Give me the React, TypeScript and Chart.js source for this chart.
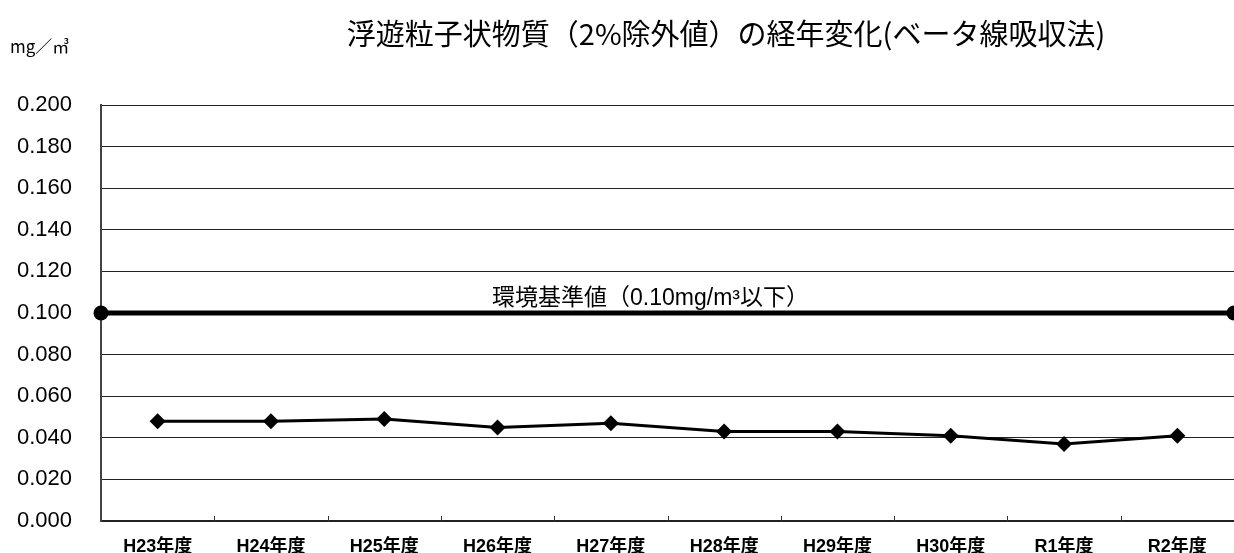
import React, { useEffect, useRef } from "react";
import { Chart, registerables } from "chart.js";

Chart.register(...registerables);

const titleText = "浮遊粒子状物質（2%除外値）の経年変化(ベータ線吸収法)";
const unitText = "mg／㎥";
const categories = ["H23年度", "H24年度", "H25年度", "H26年度", "H27年度", "H28年度", "H29年度", "H30年度", "R1年度", "R2年度"];
const values = [0.048, 0.048, 0.049, 0.045, 0.047, 0.043, 0.043, 0.041, 0.037, 0.041];
const standardValue = 0.1;
const standardLabel = "環境基準値（0.10mg/m³以下）";
const yMin = 0;
const yMax = 0.2;
const yStep = 0.02;

const W = 1234;
const H = 553;

const extrasPlugin = {
  id: "extras",
  afterDatasetsDraw(chart: any) {
    const { ctx, chartArea, scales } = chart;
    const xs = scales.x;
    const x2 = scales.x2;
    const ys = scales.y;
    ctx.save();
    ctx.strokeStyle = "#333";
    ctx.lineWidth = 1;
    for (let i = 1; i < categories.length; i++) {
      const px = Math.round((xs.getPixelForValue(i - 1) + xs.getPixelForValue(i)) / 2) + 0.5;
      ctx.beginPath();
      ctx.moveTo(px, chartArea.bottom);
      ctx.lineTo(px, chartArea.bottom - 5);
      ctx.stroke();
    }
    ctx.fillStyle = "#000";
    ctx.font = '23px "Liberation Sans", "Noto Sans CJK JP", sans-serif';
    ctx.textAlign = "center";
    ctx.textBaseline = "bottom";
    ctx.fillText(standardLabel, x2.getPixelForValue(0.485), ys.getPixelForValue(standardValue) - 3);
    ctx.restore();
  },
};

export default function App() {
  const ref = useRef<HTMLCanvasElement | null>(null);

  useEffect(() => {
    if (!ref.current) return;
    const chart = new Chart(ref.current, {
      type: "line",
      data: {
        labels: categories,
        datasets: [
          {
            label: "SPM",
            data: values,
            xAxisID: "x",
            borderColor: "#000",
            backgroundColor: "#000",
            borderWidth: 3,
            pointStyle: "rectRot",
            pointRadius: 8,
            pointBackgroundColor: "#000",
            pointBorderColor: "#000",
            pointBorderWidth: 0,
            tension: 0,
          },
          {
            label: "standard",
            data: [
              { x: 0, y: standardValue },
              { x: 1, y: standardValue },
            ],
            xAxisID: "x2",
            borderColor: "#000",
            backgroundColor: "#000",
            borderWidth: 5,
            pointStyle: "circle",
            pointRadius: 7.5,
            pointBorderWidth: 0,
            pointBackgroundColor: "#000",
            clip: false as any,
          } as any,
        ],
      },
      options: {
        responsive: false,
        animation: false,
        layout: { autoPadding: false, padding: { top: 105, left: 0, right: 0, bottom: 0 } },
        plugins: {
          legend: { display: false },
          title: { display: false },
          tooltip: { enabled: false },
        },
        scales: {
          x: {
            type: "category",
            offset: true,
            grid: { display: true, drawOnChartArea: false, drawTicks: true, tickLength: 13, tickColor: "rgba(0,0,0,0)", offset: true },
            border: { display: true, color: "#222", width: 1.5 },
            ticks: {
              color: "#000",
              padding: 2,
              maxRotation: 0,
              autoSkip: false,
              font: { family: '"Liberation Sans", "Noto Sans CJK JP", sans-serif', size: 18, weight: "bold" },
            },
            afterFit(scale: any) {
              scale.height = H - 521;
            },
          },
          x2: {
            type: "linear",
            display: false,
            min: 0,
            max: 1,
          },
          y: {
            type: "linear",
            min: yMin,
            max: yMax,
            grid: { color: "#222", lineWidth: 1, drawTicks: true, tickLength: 29, tickColor: "rgba(0,0,0,0)" },
            border: { display: true, color: "#444", width: 2 },
            ticks: {
              stepSize: yStep,
              color: "#000",
              padding: 0,
              font: { family: '"Liberation Sans", Arial, sans-serif', size: 22 },
              callback: (v: any) => Number(v).toFixed(3),
            },
            afterFit(scale: any) {
              scale.width = 101;
            },
          },
        },
      },
      plugins: [extrasPlugin],
    });
    return () => chart.destroy();
  }, []);

  return (
    <div style={{ position: "absolute", left: 0, top: 0, width: W, height: H, background: "#fff", overflow: "hidden" }}>
      <canvas ref={ref} width={W} height={H} style={{ display: "block", width: W, height: H }} />
      <div
        style={{
          position: "absolute",
          left: 726,
          top: 13,
          transform: "translateX(-50%)",
          whiteSpace: "nowrap",
          fontFamily: '"Noto Sans CJK JP", sans-serif',
          fontSize: 29,
          lineHeight: "38px",
          color: "#000",
        }}
      >
        {titleText}
      </div>
      <div
        style={{
          position: "absolute",
          left: 10,
          top: 35,
          whiteSpace: "nowrap",
          fontFamily: '"Noto Sans CJK JP", sans-serif',
          fontSize: 17,
          lineHeight: "22px",
          color: "#000",
        }}
      >
        {unitText}
      </div>
    </div>
  );
}
